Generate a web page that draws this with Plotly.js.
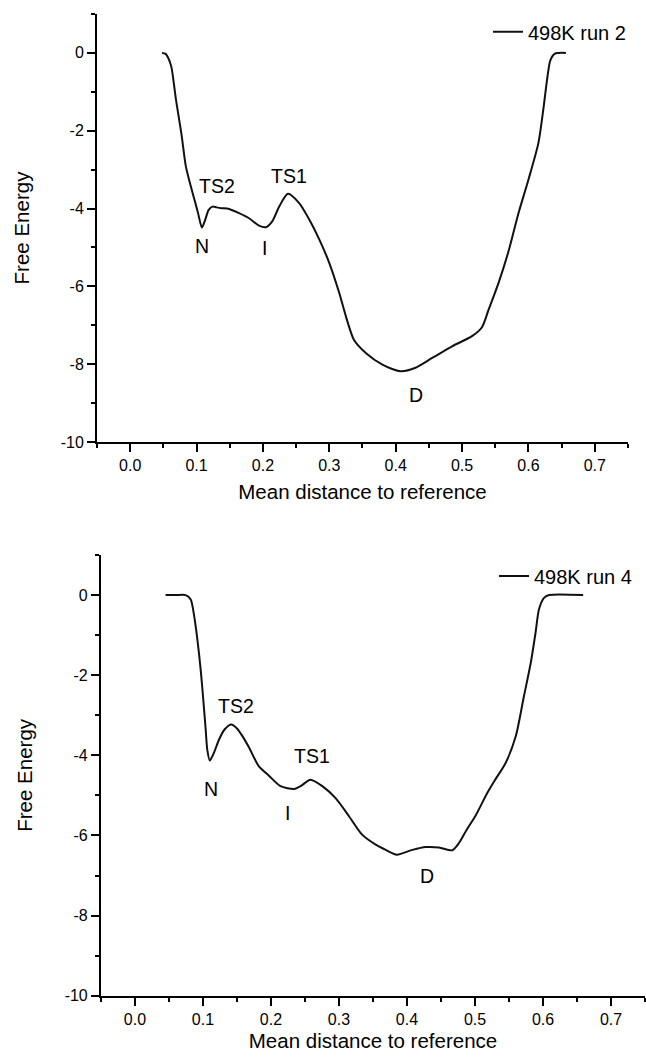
<!DOCTYPE html>
<html>
<head>
<meta charset="utf-8">
<script src="https://cdn.plot.ly/plotly-3.0.1.min.js"></script>
<style>html,body{margin:0;padding:0;background:#fff;}#chart{width:646px;height:1058px;}</style>
</head>
<body>
<div id="chart"></div>
<script>
// Run 2 (top panel)
var run2Name = '498K run 2';
var run2X = [0.048, 0.053, 0.057, 0.062, 0.069, 0.077, 0.084, 0.094, 0.102, 0.108, 0.113, 0.118, 0.124, 0.130, 0.137, 0.149, 0.164, 0.179, 0.194, 0.2045, 0.214, 0.2245, 0.2376, 0.2546, 0.27, 0.285, 0.30, 0.315, 0.325, 0.337, 0.355, 0.38, 0.4075, 0.43, 0.455, 0.485, 0.515, 0.53, 0.54, 0.555, 0.57, 0.585, 0.60, 0.615, 0.623, 0.628, 0.633, 0.64, 0.6565];
var run2Y = [0, -0.02, -0.12, -0.36, -1.21, -2.06, -2.93, -3.6, -4.1, -4.49, -4.29, -4.04, -3.95, -3.97, -3.99, -4.01, -4.12, -4.25, -4.44, -4.48, -4.33, -3.95, -3.62, -3.86, -4.29, -4.8, -5.40, -6.17, -6.77, -7.37, -7.71, -8.01, -8.18, -8.09, -7.84, -7.54, -7.28, -7.05, -6.6, -5.91, -5.1, -4.12, -3.26, -2.32, -1.38, -0.7, -0.19, -0.02, 0];

// Run 4 (bottom panel)
var run4Name = '498K run 4';
var run4X = [0.045, 0.06, 0.0745, 0.082, 0.087, 0.0917, 0.0966, 0.100, 0.104, 0.1063, 0.110, 0.116, 0.1235, 0.132, 0.1417, 0.150, 0.158, 0.1676, 0.182, 0.197, 0.214, 0.234, 0.2436, 0.258, 0.2755, 0.295, 0.3147, 0.334, 0.354, 0.3687, 0.385, 0.408, 0.4275, 0.447, 0.4667, 0.476, 0.488, 0.501, 0.518, 0.53, 0.545, 0.56, 0.572, 0.582, 0.589, 0.594, 0.6015, 0.609, 0.659];
var run4Y = [0, 0, 0, -0.11, -0.52, -1.1, -1.86, -2.52, -3.36, -3.86, -4.13, -3.94, -3.61, -3.35, -3.23, -3.33, -3.52, -3.8, -4.27, -4.51, -4.77, -4.84, -4.77, -4.61, -4.77, -5.07, -5.52, -5.98, -6.23, -6.36, -6.48, -6.36, -6.29, -6.3, -6.37, -6.2, -5.85, -5.5, -4.94, -4.6, -4.19, -3.52, -2.52, -1.69, -0.94, -0.36, -0.07, 0, 0];

// State labels
var run2Labels = ['TS2', 'N', 'I', 'TS1', 'D'];
var run2LabelX = [0.1305, 0.108, 0.203, 0.2395, 0.43];
var run2LabelY = [-3.42, -4.97, -5.01, -3.16, -8.78];
var run4Labels = ['TS2', 'N', 'TS1', 'I', 'D'];
var run4LabelX = [0.149, 0.112, 0.2608, 0.224, 0.43];
var run4LabelY = [-2.77, -4.84, -4.02, -5.44, -7.02];

// Axes ticks
var xTickVals = [0, 0.1, 0.2, 0.3, 0.4, 0.5, 0.6, 0.7];
var xTickText = ['0.0', '0.1', '0.2', '0.3', '0.4', '0.5', '0.6', '0.7'];
var yTickVals = [0, -2, -4, -6, -8, -10];
var yTickText = ['0', '-2', '-4', '-6', '-8', '-10'];
var xTitle = 'Mean distance to reference';
var yTitle = 'Free Energy';

var FONT = '"Liberation Sans", Arial, Helvetica, sans-serif';
var INK = '#000';

function xAxis(domain, anchor, standoff) {
  return {
    domain: domain, anchor: anchor, range: [-0.05, 0.75],
    showline: true, linecolor: INK, linewidth: 2,
    showgrid: false, zeroline: false,
    ticks: 'outside', ticklen: 8, tickwidth: 2, tickcolor: INK,
    tickmode: 'array', tickvals: xTickVals, ticktext: xTickText,
    tickfont: {size: 16, color: INK, family: FONT},
    minor: {ticks: 'outside', ticklen: 4, tickwidth: 2, tickcolor: INK, tickmode: 'linear', tick0: 0.05, dtick: 0.1, showgrid: false},
    title: {text: xTitle, font: {size: 20.5, color: INK, family: FONT}, standoff: standoff},
    automargin: false, fixedrange: true
  };
}
function yAxis(domain, anchor) {
  return {
    domain: domain, anchor: anchor, range: [-10, 1],
    showline: true, linecolor: INK, linewidth: 2,
    showgrid: false, zeroline: false,
    ticks: 'outside', ticklen: 8, tickwidth: 2, tickcolor: INK,
    tickmode: 'array', tickvals: yTickVals, ticktext: yTickText,
    tickfont: {size: 16, color: INK, family: FONT},
    minor: {ticks: 'outside', ticklen: 4, tickwidth: 2, tickcolor: INK, tickmode: 'linear', tick0: -9, dtick: 2, showgrid: false},
    title: {text: yTitle, font: {size: 20.5, color: INK, family: FONT}, standoff: 26},
    automargin: false, fixedrange: true
  };
}

var traces = [
  {x: run2X, y: run2Y, type: 'scatter', mode: 'lines', name: run2Name, xaxis: 'x', yaxis: 'y', legend: 'legend',
   line: {color: '#111', width: 2, shape: 'spline', smoothing: 0.7}},
  {x: run4X, y: run4Y, type: 'scatter', mode: 'lines', name: run4Name, xaxis: 'x2', yaxis: 'y2', legend: 'legend2',
   line: {color: '#111', width: 2, shape: 'spline', smoothing: 0.7}}
];

var annotations = [];
run2Labels.forEach(function (t, i) {
  annotations.push({x: run2LabelX[i], y: run2LabelY[i], xref: 'x', yref: 'y', text: t, showarrow: false,
    font: {size: 19.5, color: INK, family: FONT}});
});
run4Labels.forEach(function (t, i) {
  annotations.push({x: run4LabelX[i], y: run4LabelY[i], xref: 'x2', yref: 'y2', text: t, showarrow: false,
    font: {size: 19.5, color: INK, family: FONT}});
});

var legendBase = {xanchor: 'left', yanchor: 'middle', bgcolor: 'rgba(0,0,0,0)', borderwidth: 0,
  font: {size: 20, color: INK, family: FONT}, itemwidth: 30};

var layout = {
  width: 646, height: 1058,
  margin: {l: 0, r: 0, t: 0, b: 0, pad: 0},
  paper_bgcolor: '#fff', plot_bgcolor: '#fff',
  font: {family: FONT, color: INK, size: 16},
  showlegend: true,
  xaxis: xAxis([0.1502, 0.9721], 'y', 11),
  yaxis: yAxis([0.5822, 0.9868], 'x'),
  xaxis2: xAxis([0.1563, 0.9985], 'y2', 7),
  yaxis2: yAxis([0.0589, 0.4754], 'x2'),
  legend: Object.assign({}, legendBase, {x: 0.7554, y: 0.970}),
  legend2: Object.assign({}, legendBase, {x: 0.7647, y: 0.4556}),
  annotations: annotations
};

Plotly.newPlot('chart', traces, layout, {displayModeBar: false, staticPlot: true});
</script>
</body>
</html>
